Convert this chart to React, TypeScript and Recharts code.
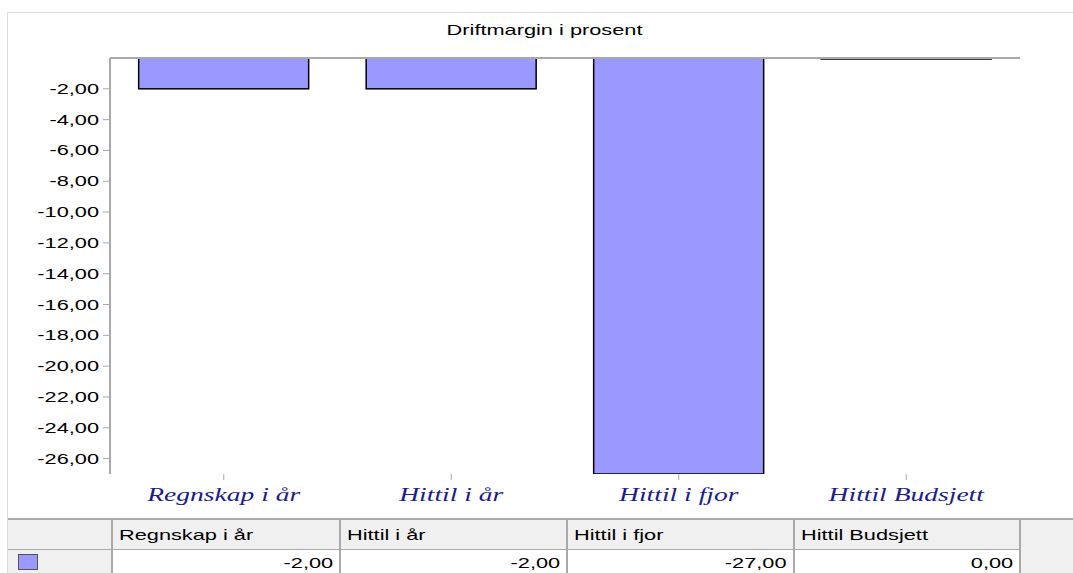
import React from "react";
import { Bar, BarChart, ReferenceLine, XAxis, YAxis } from "recharts";

const categories = ["Regnskap i år", "Hittil i år", "Hittil i fjor", "Hittil Budsjett"];
const values = [-2, -2, -27, 0];
const yTicks = [-2, -4, -6, -8, -10, -12, -14, -16, -18, -20, -22, -24, -26];
const title = "Driftmargin i prosent";

const data = categories.map((name, i) => ({ name, value: values[i] }));

const fmt = (v: number) => v.toFixed(2).replace(".", ",");

const sans = "'Liberation Sans', Arial, sans-serif";
const grid = "#a9a9a9";
const stretch = 1.45;
const colWidths = [104, 228, 227, 227, 226];

function BarShape(props: any) {
  const { x, y, width, height } = props;
  const top = Math.min(y, y + height);
  const h = Math.max(Math.abs(height), 1);
  return <rect x={x} y={top} width={width} height={h} fill="#9999ff" stroke="#000" strokeWidth={1.5} />;
}

function CategoryTick(props: any) {
  const { x, y, payload } = props;
  return (
    <text
      transform={`translate(${x},${y + 19}) scale(${stretch},1)`}
      textAnchor="middle"
      fill="#1c1c8a"
      fontFamily="'Liberation Serif', 'Times New Roman', serif"
      fontStyle="italic"
      fontSize={19}
    >
      {payload.value}
    </text>
  );
}

function ValueTick(props: any) {
  const { x, y, payload } = props;
  return (
    <text
      transform={`translate(${x - 2},${y + 5}) scale(${stretch},1)`}
      textAnchor="end"
      fill="#000"
      fontFamily={sans}
      fontSize={15}
    >
      {fmt(payload.value)}
    </text>
  );
}

function Wide({ children, origin }: { children: React.ReactNode; origin: string }) {
  return (
    <span style={{ display: "inline-block", transform: `scaleX(${stretch})`, transformOrigin: origin }}>
      {children}
    </span>
  );
}

export default function App() {
  const cell: React.CSSProperties = {
    borderRight: `2px solid ${grid}`,
    borderBottom: `1px solid ${grid}`,
    padding: "0 6px",
    fontFamily: sans,
    fontSize: 15,
    boxSizing: "border-box",
    whiteSpace: "nowrap",
    overflow: "hidden",
  };
  return (
    <div style={{ position: "absolute", left: 0, top: 0, width: 1073, height: 573, background: "#fff", overflow: "hidden" }}>
      <div
        style={{
          position: "absolute",
          left: 7,
          top: 12,
          width: 1066,
          height: 561,
          borderTop: "1px solid #dcdcdc",
          borderLeft: "1px solid #dcdcdc",
          boxSizing: "border-box",
        }}
      />
      <div
        style={{
          position: "absolute",
          left: 0,
          width: 1090,
          top: 21,
          textAlign: "center",
          fontFamily: sans,
          fontSize: 15,
          color: "#000",
        }}
      >
        <Wide origin="center">{title}</Wide>
      </div>
      <div style={{ position: "absolute", left: 0, top: 0 }}>
        <BarChart
          width={1073}
          height={518}
          data={data}
          margin={{ top: 58, right: 53, bottom: 0, left: 0 }}
          barCategoryGap="12.6%"
        >
          <XAxis
            dataKey="name"
            axisLine={false}
            tickLine={{ stroke: grid }}
            tickSize={6}
            height={44}
            tick={<CategoryTick />}
            interval={0}
          />
          <YAxis
            width={110}
            domain={[-27, 0]}
            ticks={yTicks}
            allowDataOverflow
            axisLine={{ stroke: grid, strokeWidth: 2 }}
            tickLine={{ stroke: grid }}
            tickSize={7}
            tick={<ValueTick />}
          />
          <ReferenceLine y={0} stroke={grid} strokeWidth={2} />
          <Bar dataKey="value" isAnimationActive={false} shape={<BarShape />} />
        </BarChart>
      </div>
      <table
        style={{
          position: "absolute",
          left: 8,
          top: 518,
          width: 1065,
          borderCollapse: "collapse",
          tableLayout: "fixed",
          borderTop: `2px solid ${grid}`,
        }}
      >
        <colgroup>
          {colWidths.map((w, i) => (
            <col key={i} style={{ width: w }} />
          ))}
          <col />
        </colgroup>
        <tbody>
          <tr style={{ height: 30, background: "#f0f0f0" }}>
            <td style={cell} />
            {categories.map((c) => (
              <td key={c} style={cell}>
                <Wide origin="left">{c}</Wide>
              </td>
            ))}
            <td style={{ ...cell, borderRight: "none", borderBottom: "none" }} />
          </tr>
          <tr style={{ height: 26 }}>
            <td style={{ ...cell, background: "#f0f0f0" }}>
              <div style={{ width: 18, height: 14, background: "#9999ff", border: "1px solid #555", marginLeft: 4 }} />
            </td>
            {values.map((v, i) => (
              <td key={i} style={{ ...cell, textAlign: "right" }}>
                <Wide origin="right">{fmt(v)}</Wide>
              </td>
            ))}
            <td style={{ ...cell, background: "#f0f0f0", borderRight: "none", borderBottom: "none" }} />
          </tr>
        </tbody>
      </table>
    </div>
  );
}
